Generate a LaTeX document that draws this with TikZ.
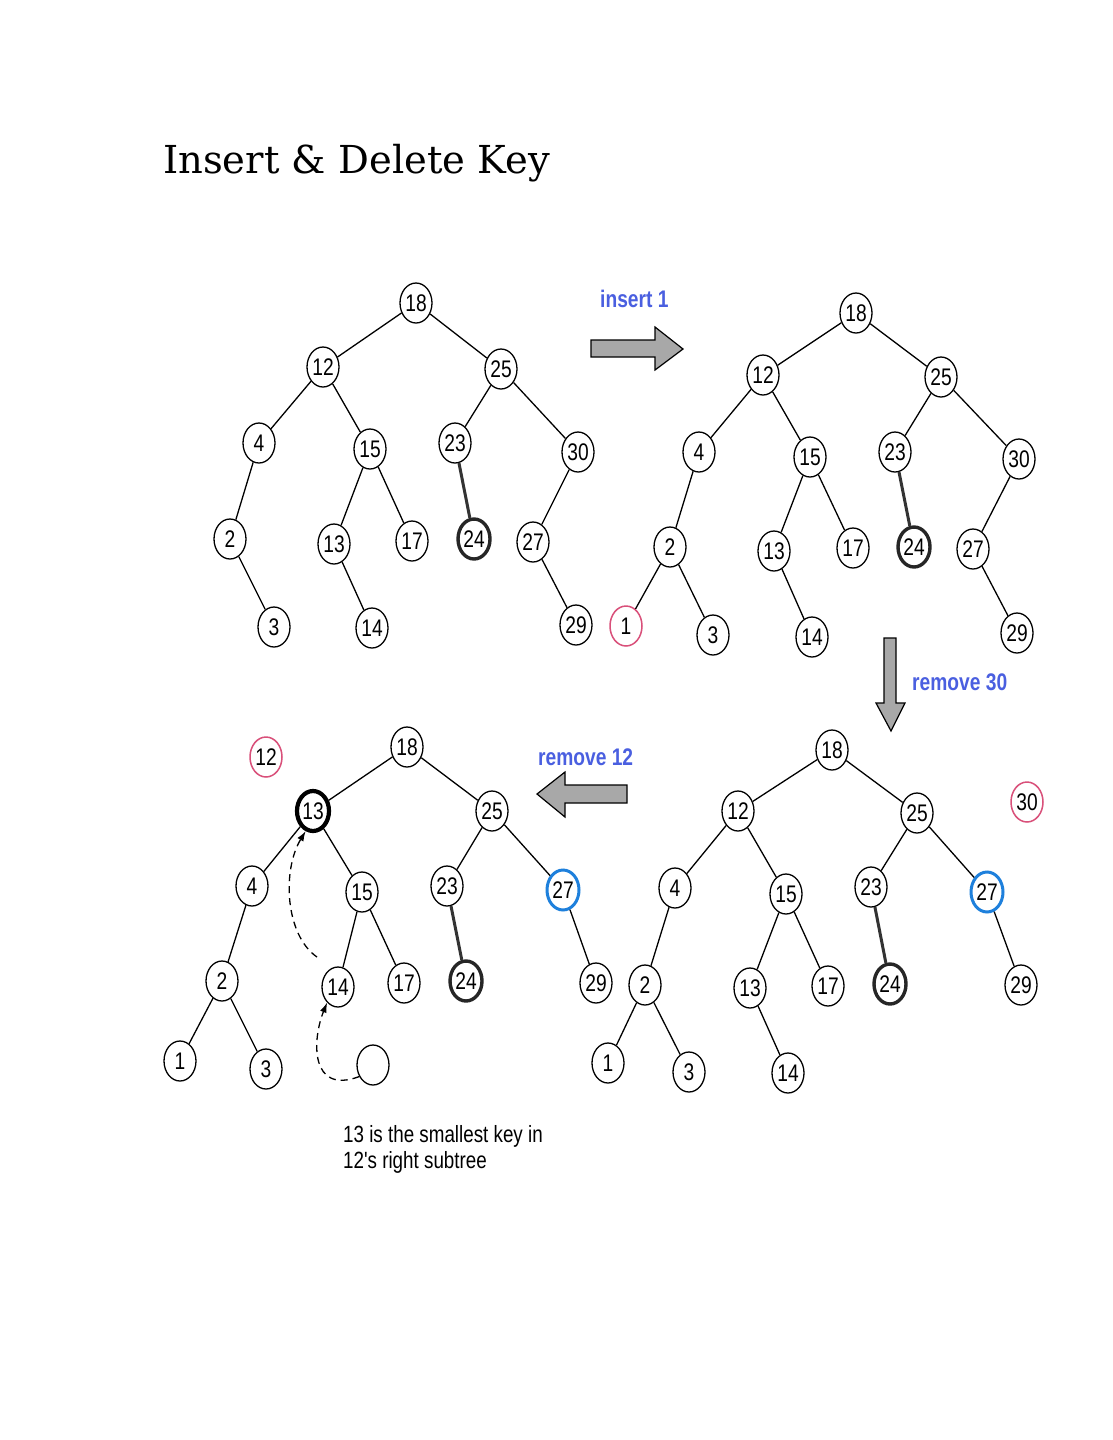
\documentclass[tikz,border=0pt]{standalone}
\usepackage{fontspec}
\setmainfont{Liberation Sans}
\newfontfamily\narrowfont[FakeStretch=0.8]{Liberation Sans}
\newfontfamily\titlefont{DejaVu Serif}
\usetikzlibrary{shapes.geometric,arrows.meta}
\definecolor{lblblue}{HTML}{4A5FE0}
\definecolor{pinkc}{HTML}{D9507A}
\definecolor{bluec}{HTML}{1E80DC}
\definecolor{arrgray}{HTML}{A8A8A8}
\tikzset{
  kn/.style={draw=black, line width=1.3pt, ellipse, minimum width=32pt, minimum height=40pt, inner sep=0pt, fill=white, font=\narrowfont\fontsize{24}{24}\selectfont},
  thk/.style={line width=3.4pt, draw=black!85},
  thkk/.style={line width=4.2pt},
  pinkn/.style={draw=pinkc, line width=1.5pt},
  bluen/.style={draw=bluec, line width=3pt},
  ed/.style={line width=1.3pt},
  edthk/.style={line width=3pt, draw=black!80},
  lbl/.style={text=lblblue, font=\narrowfont\bfseries\fontsize{24}{24}\selectfont, inner sep=0pt},
  fatarrow/.style={draw=black, line width=1.2pt, fill=arrgray, line join=miter},
  dasharr/.style={line width=1.3pt, dash pattern=on 7pt off 5pt, -{Latex[length=10pt,width=7pt]}}
}
\begin{document}
\begin{tikzpicture}[x=1pt,y=-1pt]
\useasboundingbox (0,0) rectangle (1113,1440);
\fill[white] (0,0) rectangle (1113,1440);
% title
\node[anchor=base west, inner sep=0pt, font=\titlefont\fontsize{38.5}{38.5}\selectfont] (title) at (163,173) {Insert \& Delete Key};

% ---------- tree 1 ----------
\node[kn] (a18) at (416,303) {18};
\node[kn] (a12) at (323,367) {12};
\node[kn] (a25) at (501,369) {25};
\node[kn] (a4)  at (259,443) {4};
\node[kn] (a15) at (370,449) {15};
\node[kn] (a23) at (455,443) {23};
\node[kn] (a30) at (578,452) {30};
\node[kn] (a2)  at (230,539) {2};
\node[kn] (a13) at (334,544) {13};
\node[kn] (a17) at (412,541) {17};
\node[kn,thk] (a24) at (474,539) {24};
\node[kn] (a27) at (533,542) {27};
\node[kn] (a3)  at (274,627) {3};
\node[kn] (a14) at (372,628) {14};
\node[kn] (a29) at (576,625) {29};
\draw[ed] (a18)--(a12) (a18)--(a25) (a12)--(a4) (a12)--(a15) (a4)--(a2) (a2)--(a3)
  (a15)--(a13) (a15)--(a17) (a13)--(a14) (a25)--(a23) (a25)--(a30) (a30)--(a27) (a27)--(a29);
\draw[edthk] (a23)--(a24);

% ---------- tree 2 ----------
\node[kn] (b18) at (856,313) {18};
\node[kn] (b12) at (763,375) {12};
\node[kn] (b25) at (941,377) {25};
\node[kn] (b4)  at (699,452) {4};
\node[kn] (b15) at (810,457) {15};
\node[kn] (b23) at (895,452) {23};
\node[kn] (b30) at (1019,459) {30};
\node[kn] (b2)  at (670,547) {2};
\node[kn] (b13) at (774,551) {13};
\node[kn] (b17) at (853,548) {17};
\node[kn,thk] (b24) at (914,547) {24};
\node[kn] (b27) at (973,549) {27};
\node[kn,pinkn] (b1) at (626,626) {1};
\node[kn] (b3)  at (713,635) {3};
\node[kn] (b14) at (812,637) {14};
\node[kn] (b29) at (1017,633) {29};
\draw[ed] (b18)--(b12) (b18)--(b25) (b12)--(b4) (b12)--(b15) (b4)--(b2) (b2)--(b1) (b2)--(b3)
  (b15)--(b13) (b15)--(b17) (b13)--(b14) (b25)--(b23) (b25)--(b30) (b30)--(b27) (b27)--(b29);
\draw[edthk] (b23)--(b24);

% ---------- tree 3 ----------
\node[kn] (c18) at (832,750) {18};
\node[kn] (c12) at (738,811) {12};
\node[kn] (c25) at (917,813) {25};
\node[kn,pinkn] (c30) at (1027,802) {30};
\node[kn] (c4)  at (675,888) {4};
\node[kn] (c15) at (786,894) {15};
\node[kn] (c23) at (871,887) {23};
\node[kn,bluen] (c27) at (987,892) {27};
\node[kn] (c2)  at (645,985) {2};
\node[kn] (c13) at (750,988) {13};
\node[kn] (c17) at (828,986) {17};
\node[kn,thk] (c24) at (890,984) {24};
\node[kn] (c29) at (1021,985) {29};
\node[kn] (c1)  at (608,1063) {1};
\node[kn] (c3)  at (689,1072) {3};
\node[kn] (c14) at (788,1073) {14};
\draw[ed] (c18)--(c12) (c18)--(c25) (c12)--(c4) (c12)--(c15) (c4)--(c2) (c2)--(c1) (c2)--(c3)
  (c15)--(c13) (c15)--(c17) (c13)--(c14) (c25)--(c23) (c25)--(c27) (c27)--(c29);
\draw[edthk] (c23)--(c24);

% ---------- tree 4 ----------
\node[kn,pinkn] (d12) at (266,757) {12};
\node[kn] (d18) at (407,747) {18};
\node[kn,thkk] (d13) at (313,811) {13};
\node[kn] (d25) at (492,811) {25};
\node[kn] (d4)  at (252,886) {4};
\node[kn] (d15) at (362,892) {15};
\node[kn] (d23) at (447,886) {23};
\node[kn,bluen] (d27) at (563,890) {27};
\node[kn] (d2)  at (222,981) {2};
\node[kn] (d14) at (338,987) {14};
\node[kn] (d17) at (404,983) {17};
\node[kn,thk] (d24) at (466,981) {24};
\node[kn] (d29) at (596,983) {29};
\node[kn] (d1)  at (180,1061) {1};
\node[kn] (d3)  at (266,1069) {3};
\node[kn] (dE)  at (373,1065) {};
\draw[ed] (d18)--(d13) (d18)--(d25) (d13)--(d4) (d13)--(d15) (d4)--(d2) (d2)--(d1) (d2)--(d3)
  (d15)--(d14) (d15)--(d17) (d25)--(d23) (d25)--(d27) (d27)--(d29);
\draw[edthk] (d23)--(d24);
% dashed moves
\coordinate (m1) at (317,957);
\draw[dasharr] (m1) .. controls (285,935) and (282,870) .. (d13.250);
\draw[dasharr] (dE.220) .. controls (310,1095) and (312,1040) .. (d14.235);

\node[anchor=base west, inner sep=0pt, align=left, font=\narrowfont\fontsize{23.5}{26}\selectfont] (note) at (343,1168) {13 is the smallest key in\\12's right subtree};

% ---------- big arrows and labels ----------
\node[lbl, anchor=base west] (lins) at (600,307) {insert 1};
\draw[fatarrow] (591,340) -- (655,340) -- (655,327) -- (683,349) -- (655,370) -- (655,357) -- (591,357) -- cycle;
\node[lbl, anchor=base west] (lr30) at (912,690) {remove 30};
\draw[fatarrow] (884,638) -- (896,638) -- (896,703) -- (905,703) -- (891,731) -- (876,703) -- (884,703) -- cycle;
\node[lbl, anchor=base west] (lr12) at (538,765) {remove 12};
\draw[fatarrow] (627,785) -- (565,785) -- (565,772) -- (537,794) -- (565,817) -- (565,803) -- (627,803) -- cycle;
\end{tikzpicture}
\end{document}
